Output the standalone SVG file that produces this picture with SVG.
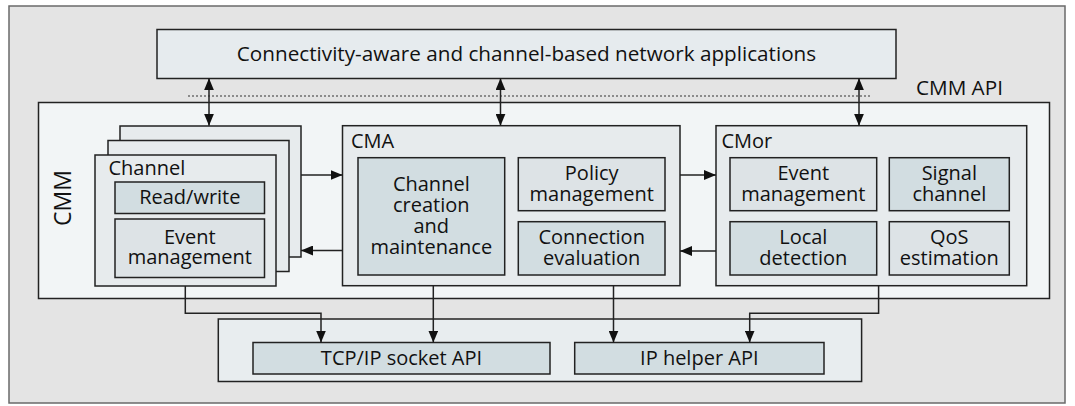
<svg xmlns="http://www.w3.org/2000/svg" width="1075" height="406" viewBox="0 0 1075 406">
<defs>
<style>
.box{stroke:#222;stroke-width:1.5}
.cont{fill:#e7ebed}
.dark{fill:#d2dde1}
.light{fill:#dde3e6}
text{font-family:"Open Sans","Noto Sans","Liberation Sans",sans-serif;font-size:20px;fill:#111}
.c{text-anchor:middle}
.big{font-size:20.7px}
.ln{fill:none;stroke:#222;stroke-width:1.5}
</style>
<marker id="ah" viewBox="0 0 12 10" refX="12" refY="5" markerWidth="12" markerHeight="10" markerUnits="userSpaceOnUse" orient="auto-start-reverse">
<path d="M0,0 L12,5 L0,10 z" fill="#111"/>
</marker>
</defs>
<rect x="9" y="6" width="1056" height="397" fill="#e4e4e4" stroke="#6a6a6a" stroke-width="1.5"/>

<g id="apps">
<rect class="box" x="157" y="29.5" width="739" height="49" fill="#e6ebee"/>
<text class="c big" x="526.5" y="60.5">Connectivity-aware and channel-based network applications</text>
</g>

<g id="cmm-api">
<line x1="188" y1="96" x2="872" y2="96" stroke="#333" stroke-width="1" stroke-dasharray="2,2"/>
<text class="big" x="916" y="95">CMM API</text>
</g>

<g id="cmm">
<rect class="box" x="38.5" y="102.5" width="1011" height="196" fill="#f2f5f6"/>
<text class="c" transform="translate(71,198) rotate(-90)" style="font-size:23px">CMM</text>
</g>

<g id="channel">
<rect class="box cont" x="120" y="126" width="181" height="131"/>
<rect class="box cont" x="108" y="140.5" width="181" height="131"/>
<rect class="box cont" x="95" y="155" width="181" height="131"/>
<text x="108.5" y="175">Channel</text>
<rect class="box dark" x="115" y="182" width="149.5" height="31.5"/>
<text class="c" x="189.8" y="203.5">Read/write</text>
<rect class="box light" x="115" y="219" width="149.5" height="58.5"/>
<text class="c" x="189.8" y="244">Event</text>
<text class="c" x="189.8" y="264">management</text>
</g>

<g id="cma">
<rect class="box cont" x="342.5" y="125.7" width="337.5" height="160"/>
<text x="351" y="147.5">CMA</text>
<rect class="box dark" x="358" y="157.7" width="146.7" height="117.3"/>
<text class="c" x="431.3" y="191">Channel</text>
<text class="c" x="431.3" y="212">creation</text>
<text class="c" x="431.3" y="233">and</text>
<text class="c" x="431.3" y="254">maintenance</text>
<rect class="box light" x="518.3" y="157.7" width="146.7" height="53"/>
<text class="c" x="591.7" y="180">Policy</text>
<text class="c" x="591.7" y="201">management</text>
<rect class="box dark" x="518.3" y="221.7" width="146.7" height="53.3"/>
<text class="c" x="591.7" y="244">Connection</text>
<text class="c" x="591.7" y="265">evaluation</text>
</g>

<g id="cmor">
<rect class="box cont" x="716" y="125.7" width="310.7" height="160"/>
<text x="721.5" y="147.5">CMor</text>
<rect class="box light" x="730" y="157.7" width="146.7" height="53"/>
<text class="c" x="803.3" y="180">Event</text>
<text class="c" x="803.3" y="201">management</text>
<rect class="box dark" x="889.3" y="157.7" width="120" height="53"/>
<text class="c" x="949.3" y="180">Signal</text>
<text class="c" x="949.3" y="201">channel</text>
<rect class="box dark" x="730" y="221.7" width="146.7" height="53.3"/>
<text class="c" x="803.3" y="244">Local</text>
<text class="c" x="803.3" y="265">detection</text>
<rect class="box light" x="889.3" y="221.7" width="120" height="53.3"/>
<text class="c" x="949.3" y="244">QoS</text>
<text class="c" x="949.3" y="265">estimation</text>
</g>

<g id="os">
<rect class="box" x="218.3" y="319" width="643.3" height="62.5" fill="#e8edef"/>
<rect class="box dark" x="253" y="342.5" width="297" height="31.5"/>
<text class="c" x="401.5" y="365">TCP/IP socket API</text>
<rect class="box dark" x="574.7" y="342.5" width="249.3" height="31.5"/>
<text class="c" x="699.3" y="365">IP helper API</text>
</g>

<g id="connectors">
<line class="ln" x1="209" y1="78.3" x2="209" y2="125.7" marker-start="url(#ah)" marker-end="url(#ah)"/>
<line class="ln" x1="500.5" y1="78.3" x2="500.5" y2="125.7" marker-start="url(#ah)" marker-end="url(#ah)"/>
<line class="ln" x1="859" y1="78.3" x2="859" y2="125.7" marker-start="url(#ah)" marker-end="url(#ah)"/>
<line class="ln" x1="301" y1="175" x2="342.5" y2="175" marker-end="url(#ah)"/>
<line class="ln" x1="342.5" y1="250.5" x2="301" y2="250.5" marker-end="url(#ah)"/>
<line class="ln" x1="680" y1="175" x2="716" y2="175" marker-end="url(#ah)"/>
<line class="ln" x1="716" y1="251" x2="680" y2="251" marker-end="url(#ah)"/>
<polyline class="ln" points="185.3,286 185.3,313.3 321,313.3 321,342.5" marker-end="url(#ah)"/>
<line class="ln" x1="433.3" y1="285.7" x2="433.3" y2="342.5" marker-end="url(#ah)"/>
<line class="ln" x1="613.5" y1="285.7" x2="613.5" y2="342.5" marker-end="url(#ah)"/>
<polyline class="ln" points="878.6,285.7 878.6,313.3 749.7,313.3 749.7,342.5" marker-end="url(#ah)"/>
</g>
</svg>
